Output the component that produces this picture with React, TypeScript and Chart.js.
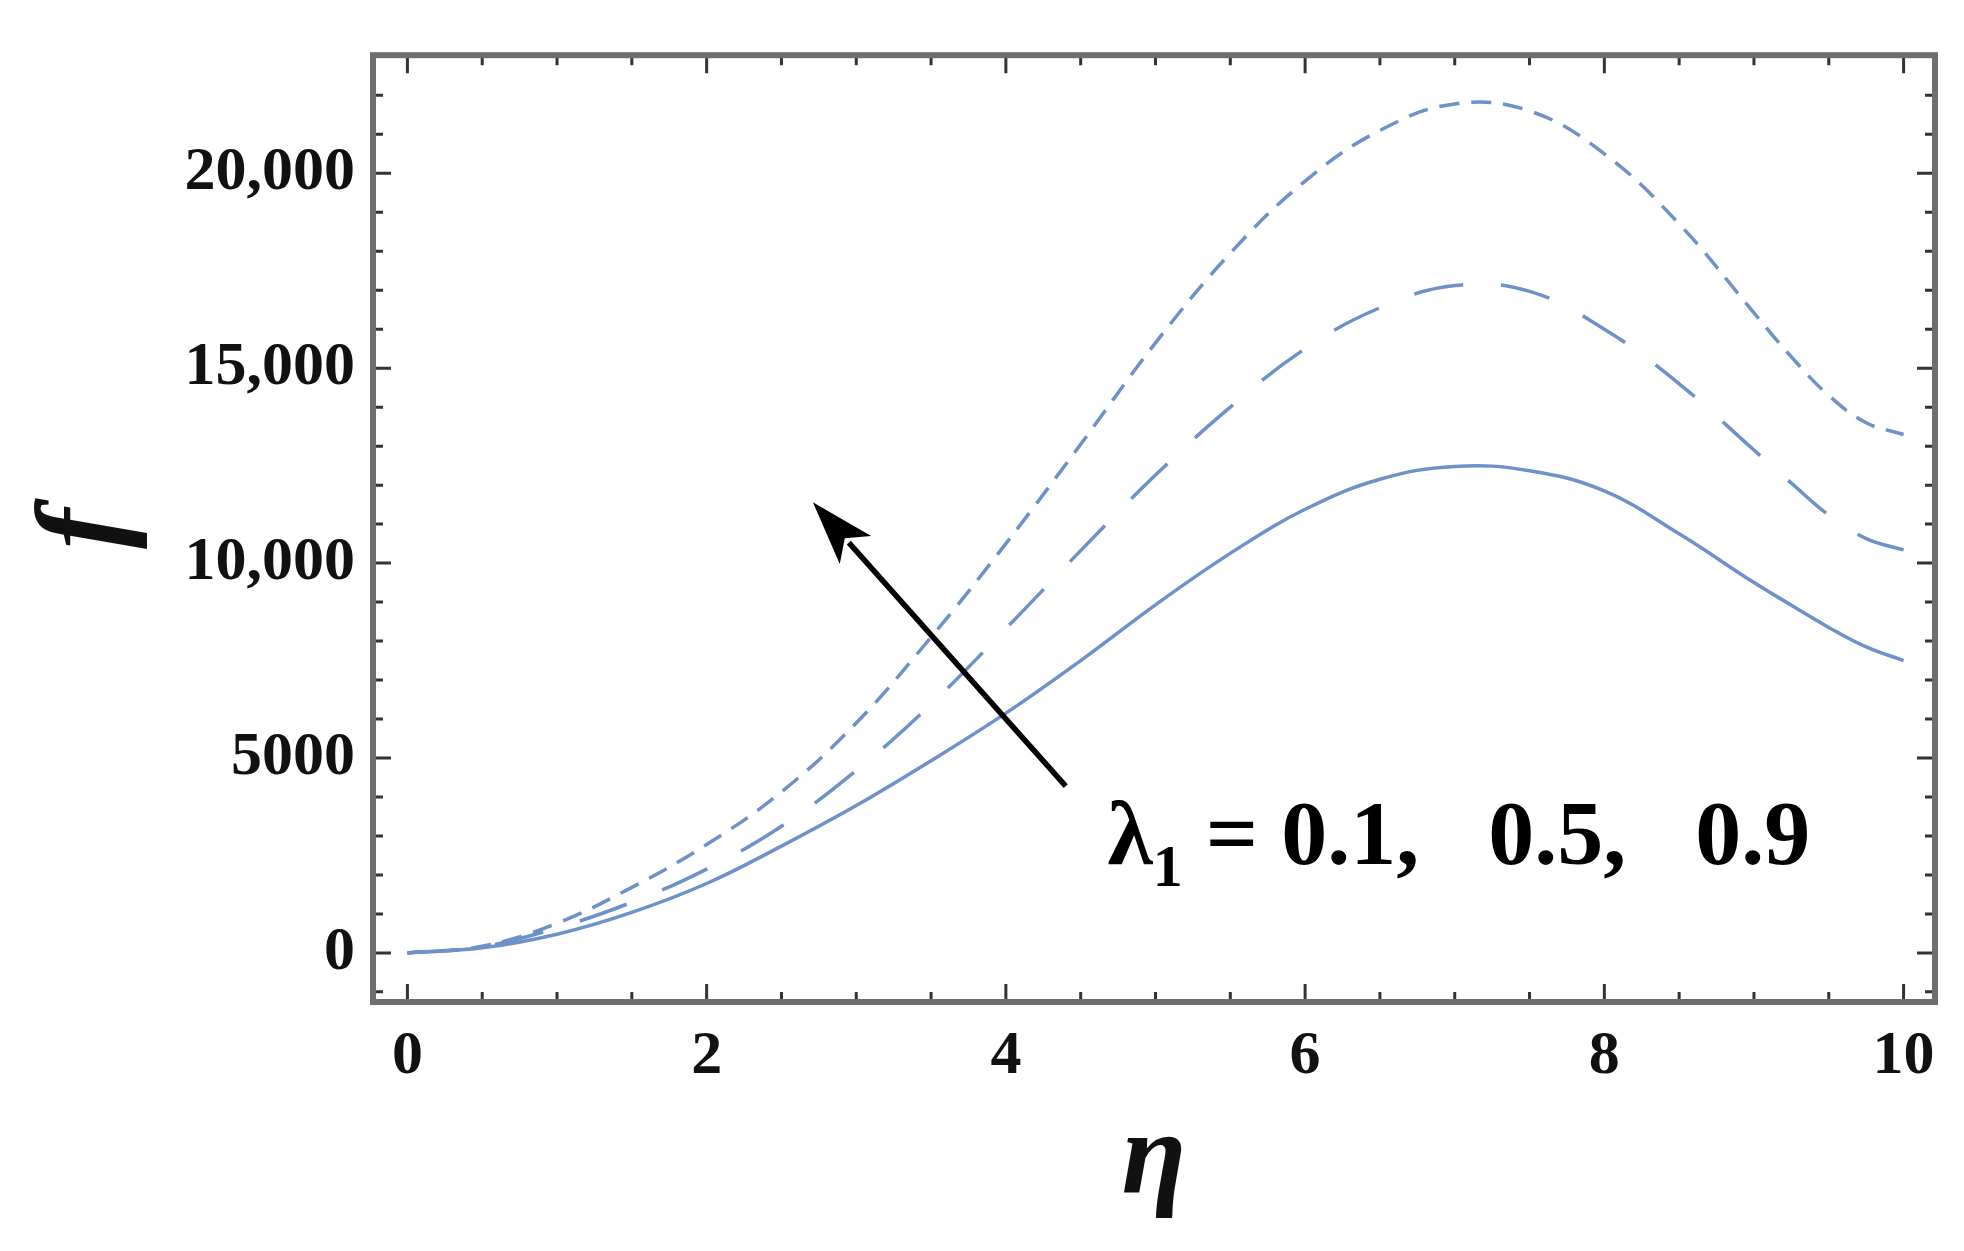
import { useEffect, useRef } from 'react'
import { Chart, registerables, ChartConfiguration, Plugin } from 'chart.js'

Chart.register(...registerables)

// eta grid and f values (finer near the right end)
const eta = [0, 0.5, 1, 1.5, 2, 2.5, 3, 3.5, 4, 4.5, 5, 5.5, 6, 6.5, 7, 7.5, 8, 8.5, 9, 9.25, 9.5, 9.75, 10]
const fLambda01 = [0, 130, 480, 1040, 1780, 2740, 3780, 4930, 6150, 7500, 8930, 10250, 11380, 12150, 12480, 12370, 11850, 10750, 9500, 8920, 8350, 7850, 7500]
const fLambda05 = [0, 160, 640, 1300, 2150, 3250, 4680, 6380, 8320, 10320, 12260, 14000, 15500, 16550, 17120, 16970, 16000, 14600, 12900, 12050, 11230, 10630, 10340]
const fLambda09 = [0, 170, 760, 1680, 2780, 4130, 5900, 8100, 10500, 13050, 15650, 17950, 19800, 21100, 21780, 21600, 20500, 18700, 16420, 15290, 14300, 13600, 13300]

const xTicks = [0, 2, 4, 6, 8, 10]
const xTickLabels = ['0', '2', '4', '6', '8', '10']
const yTicks = [0, 5000, 10000, 15000, 20000]
const yTickLabels = ['0', '5000', '10,000', '15,000', '20,000']

// arrow from (eta, f) tail to head, and label anchor
const arrowTail = [4.4, 4280]
const arrowHead = [2.71, 11560]
const labelAt = [4.68, 2270]

const LINE = '#6d91c8'
const SERIF = '"Liberation Serif", "Times New Roman", serif'

const toPts = (ys: number[]) => eta.map((x, i) => ({ x, y: ys[i] }))

const framePlugin: Plugin = {
  id: 'frame',
  afterDraw(chart) {
    const { ctx, chartArea: a, scales } = chart
    const xs = scales.x
    const ys = scales.y
    ctx.save()

    // inward ticks on all four sides
    ctx.strokeStyle = '#333'
    ctx.lineWidth = 3
    const tickX = (v: number, len: number) => {
      const p = xs.getPixelForValue(v)
      ctx.beginPath()
      ctx.moveTo(p, a.bottom)
      ctx.lineTo(p, a.bottom - len)
      ctx.moveTo(p, a.top)
      ctx.lineTo(p, a.top + len)
      ctx.stroke()
    }
    const tickY = (v: number, len: number) => {
      const p = ys.getPixelForValue(v)
      ctx.beginPath()
      ctx.moveTo(a.left, p)
      ctx.lineTo(a.left + len, p)
      ctx.moveTo(a.right, p)
      ctx.lineTo(a.right - len, p)
      ctx.stroke()
    }
    for (let v = 0; v <= 10; v += 0.5) {
      tickX(v, xTicks.includes(v) ? 18 : 10)
    }
    for (let v = -1000; v <= 23000; v += 1000) {
      tickY(v, yTicks.includes(v) ? 18 : 10)
    }

    ctx.strokeStyle = '#6e6e6e'
    ctx.lineWidth = 6
    ctx.strokeRect(a.left, a.top, a.right - a.left, a.bottom - a.top)

    // arrow
    const tx = xs.getPixelForValue(arrowTail[0])
    const ty = ys.getPixelForValue(arrowTail[1])
    const hx = xs.getPixelForValue(arrowHead[0])
    const hy = ys.getPixelForValue(arrowHead[1])
    const ang = Math.atan2(hy - ty, hx - tx)
    const headLen = 64
    const headHalf = 21
    const bx = hx - headLen * Math.cos(ang)
    const by = hy - headLen * Math.sin(ang)
    ctx.strokeStyle = '#000'
    ctx.fillStyle = '#000'
    ctx.lineWidth = 5.5
    ctx.beginPath()
    ctx.moveTo(tx, ty)
    ctx.lineTo(bx + 10 * Math.cos(ang), by + 10 * Math.sin(ang))
    ctx.stroke()
    ctx.beginPath()
    ctx.moveTo(hx, hy)
    ctx.lineTo(bx + headHalf * Math.sin(ang), by - headHalf * Math.cos(ang))
    ctx.lineTo(bx + 0.25 * headLen * Math.cos(ang), by + 0.25 * headLen * Math.sin(ang))
    ctx.lineTo(bx - headHalf * Math.sin(ang), by + headHalf * Math.cos(ang))
    ctx.closePath()
    ctx.fill()

    // lambda label
    let lx = xs.getPixelForValue(labelAt[0])
    const ly = ys.getPixelForValue(labelAt[1])
    ctx.textBaseline = 'alphabetic'
    ctx.textAlign = 'left'
    ctx.font = `bold 92px ${SERIF}`
    ctx.fillText('λ', lx, ly)
    lx += ctx.measureText('λ').width
    ctx.font = `bold 60px ${SERIF}`
    ctx.fillText('1', lx, ly + 22)
    lx += ctx.measureText('1').width
    ctx.font = `bold 92px ${SERIF}`
    ctx.fillText(' = 0.1,   0.5,   0.9', lx, ly)

    ctx.restore()
  },
}

export default function App() {
  const canvasRef = useRef<HTMLCanvasElement>(null)
  const chartRef = useRef<Chart | null>(null)

  useEffect(() => {
    document.body.style.margin = '0'
    if (!canvasRef.current) return
    if (chartRef.current) chartRef.current.destroy()
    const ctx = canvasRef.current.getContext('2d')
    if (!ctx) return

    const common = {
      borderColor: LINE,
      borderWidth: 3.5,
      pointRadius: 0,
      fill: false,
      tension: 0.4,
    }

    const config: ChartConfiguration<'line'> = {
      type: 'line',
      data: {
        datasets: [
          { ...common, label: 'λ1 = 0.1', data: toPts(fLambda01) },
          { ...common, label: 'λ1 = 0.5', data: toPts(fLambda05), borderDash: [50, 38] },
          { ...common, label: 'λ1 = 0.9', data: toPts(fLambda09), borderDash: [20, 12] },
        ],
      },
      options: {
        animation: false,
        responsive: false,
        devicePixelRatio: 1,
        layout: { padding: { top: 38, right: 29, left: 0, bottom: 0 } },
        plugins: {
          legend: { display: false },
          tooltip: { enabled: false },
        },
        scales: {
          x: {
            type: 'linear',
            min: -0.23,
            max: 10.21,
            afterBuildTicks: (s) => {
              s.ticks = xTicks.map((value) => ({ value }))
            },
            afterFit: (s) => {
              s.height = 249
            },
            grid: { display: false, drawTicks: false },
            border: { display: false },
            ticks: {
              color: '#111',
              padding: 18,
              maxRotation: 0,
              font: { family: SERIF, size: 62, weight: 'bold' },
              callback: (v) => xTickLabels[xTicks.indexOf(Number(v))] ?? '',
            },
            title: {
              display: true,
              text: 'η',
              color: '#111',
              padding: { top: 0, bottom: 18 },
              font: { family: SERIF, size: 118, style: 'italic', weight: 'bold' },
            },
          },
          y: {
            type: 'linear',
            min: -1260,
            max: 23030,
            afterBuildTicks: (s) => {
              s.ticks = yTicks.map((value) => ({ value }))
            },
            afterFit: (s) => {
              s.width = 373
            },
            grid: { display: false, drawTicks: false },
            border: { display: false },
            ticks: {
              color: '#111',
              padding: 18,
              font: { family: SERIF, size: 62, weight: 'bold' },
              callback: (v) => yTickLabels[yTicks.indexOf(Number(v))] ?? '',
            },
            title: {
              display: true,
              text: 'f',
              color: '#111',
              padding: { top: 16, bottom: 0 },
              font: { family: SERIF, size: 122, style: 'italic', weight: 'bold' },
            },
          },
        },
      },
      plugins: [framePlugin],
    }

    chartRef.current = new Chart(ctx, config)

    return () => {
      if (chartRef.current) {
        chartRef.current.destroy()
        chartRef.current = null
      }
    }
  }, [])

  return (
    <div style={{ width: 1964, height: 1251, background: '#fff' }}>
      <canvas ref={canvasRef} width={1964} height={1251} />
    </div>
  )
}
